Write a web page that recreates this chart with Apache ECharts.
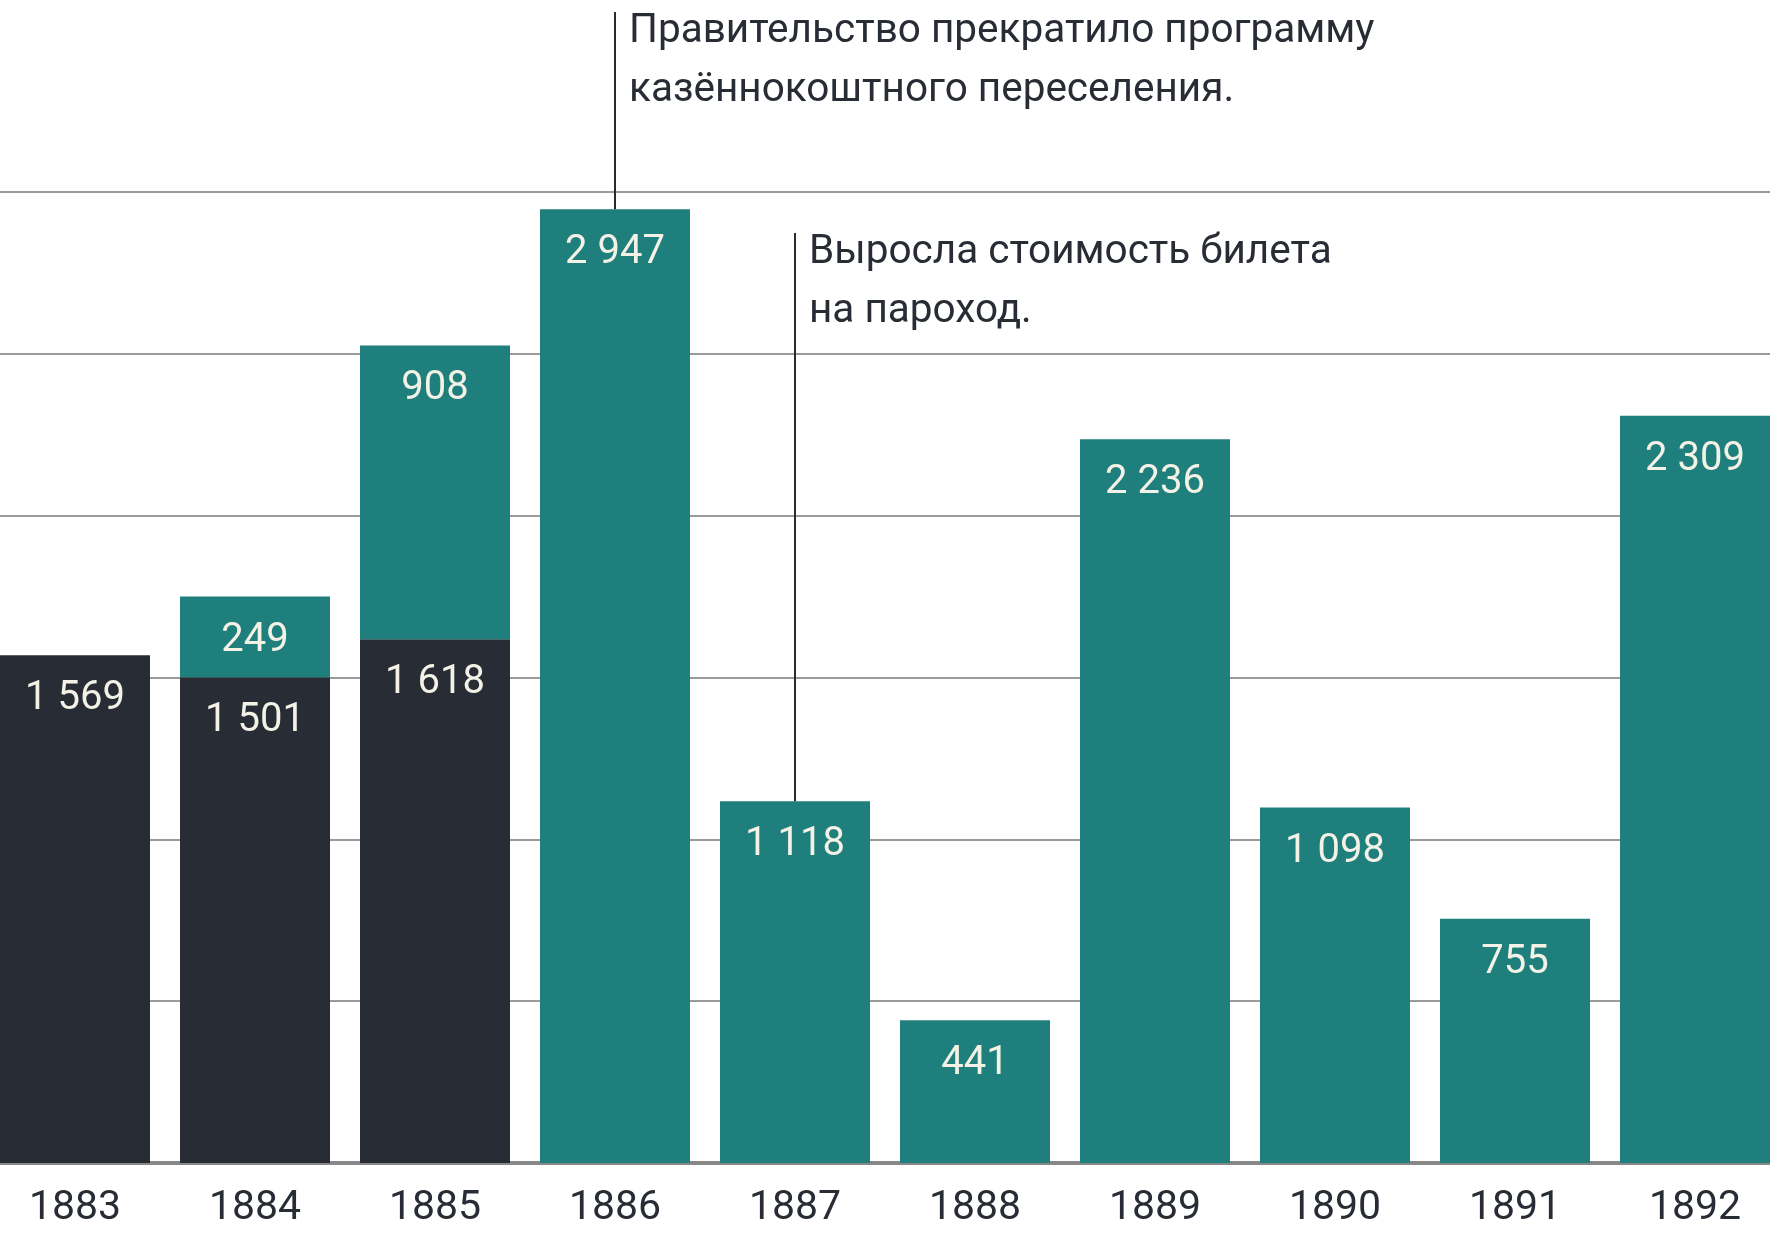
<!DOCTYPE html>
<html>
<head>
<meta charset="utf-8">
<script src="https://cdn.jsdelivr.net/npm/echarts@6/dist/echarts.min.js"></script>
<style>
html,body{margin:0;padding:0;background:#fff;}
#chart{width:1770px;height:1236px;}
</style>
</head>
<body>
<div id="chart"></div>
<script>
// Data
var years = ['1883','1884','1885','1886','1887','1888','1889','1890','1891','1892'];
var darkValues = [1569, 1501, 1618, null, null, null, null, null, null, null];
var tealValues = [null, 249, 908, 2947, 1118, 441, 2236, 1098, 755, 2309];
var annotationYears = ['1886', '1887'];
var annotationTexts = [
  'Правительство прекратило программу\nказённокоштного переселения.',
  'Выросла стоимость билета\nна пароход.'
];
var annotationBottoms = [2947, 1118];
var annotationTops = [3556, 2873];

var FONT = 'Roboto, "Noto Sans", sans-serif';
var DARK = '#282c35';
var TEAL = '#1f7f7c';
var LABEL = '#f4f2e6';

function fmt(v) {
  return String(v).replace(/\B(?=(\d{3})+(?!\d))/g, ' ');
}

var chart = echarts.init(document.getElementById('chart'), null, {renderer: 'canvas'});

var labelOpt = {
  show: true,
  position: 'insideTop',
  distance: 24,
  color: LABEL,
  fontFamily: FONT,
  fontSize: 40,
  formatter: function (p) { return p.value == null ? '' : fmt(p.value); }
};

chart.setOption({
  animation: false,
  backgroundColor: '#ffffff',
  grid: {left: -15, right: -15, top: 192, bottom: 73, containLabel: false, outerBoundsMode: 'none'},
  xAxis: {
    type: 'category',
    data: years,
    axisLine: {show: true, lineStyle: {color: '#888888', width: 4}},
    axisTick: {show: false},
    axisLabel: {color: DARK, fontFamily: FONT, fontSize: 41, margin: 25}
  },
  yAxis: {
    type: 'value',
    min: 0, max: 3000, interval: 500,
    axisLine: {show: false},
    axisTick: {show: false},
    axisLabel: {show: false},
    splitLine: {show: true, lineStyle: {color: '#9a9a9a', width: 2}}
  },
  series: [
    {
      name: 'dark', type: 'bar', stack: 'total', data: darkValues,
      barWidth: 150, itemStyle: {color: DARK}, label: labelOpt
    },
    {
      name: 'teal', type: 'bar', stack: 'total', data: tealValues,
      barWidth: 150, itemStyle: {color: TEAL}, label: labelOpt
    }
  ]
});

var graphics = [];
for (var i = 0; i < annotationYears.length; i++) {
  var pBottom = chart.convertToPixel({xAxisIndex: 0, yAxisIndex: 0}, [annotationYears[i], annotationBottoms[i]]);
  var pTop = chart.convertToPixel({xAxisIndex: 0, yAxisIndex: 0}, [annotationYears[i], annotationTops[i]]);
  graphics.push({
    type: 'line',
    shape: {x1: pTop[0], y1: pTop[1], x2: pBottom[0], y2: pBottom[1]},
    style: {stroke: DARK, lineWidth: 2},
    z: 10
  });
  graphics.push({
    type: 'text',
    x: pTop[0] + 14,
    y: pTop[1] - 10,
    style: {
      text: annotationTexts[i],
      fill: DARK,
      font: '40.5px ' + FONT,
      lineHeight: 59,
      verticalAlign: 'top',
      align: 'left'
    },
    z: 10
  });
}
chart.setOption({graphic: graphics});
</script>
</body>
</html>
